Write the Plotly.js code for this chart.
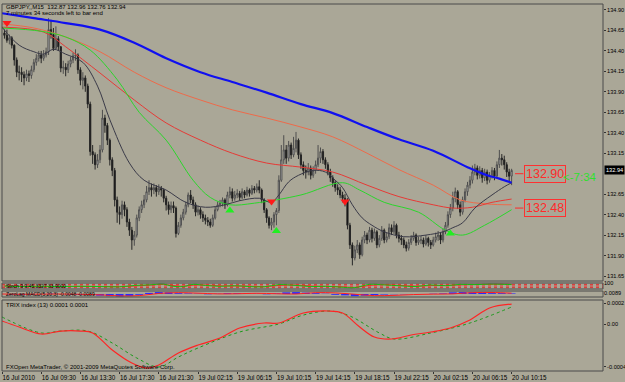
<!DOCTYPE html>
<html><head><meta charset="utf-8">
<script src="https://cdn.plot.ly/plotly-3.0.1.min.js"></script>
<style>html,body{margin:0;padding:0;background:#aaa797;}#chart{width:625px;height:382px;}</style>
</head><body><div id="chart"></div>
<script>
// ---------------- DATA ----------------
const symbolTitle = 'GBPJPY,,M15';
const timerText = '7 minutes 34 seconds left to bar end';
const timerShort = '&lt;-7:34';
const copyrightText = 'FXOpen MetaTrader, \u00a9 2001-2009 MetaQuotes Software Corp.';
const trixLabel = 'TRIX index (13) 0.0001 0.0001';
const stochLabel = 'Stoch 9 9 45.3327 33.9000';
const macdLabel = 'ZeroLag MACD(5,20,3) -0.0048 -0.0089';

const timeTickIdx = [0,16,32,48,64,80,96,112,128,144,160,176,192,208];
const timeTickText = ['16 Jul 2010','16 Jul 09:30','16 Jul 13:30','16 Jul 17:30','16 Jul 21:30','19 Jul 02:15','19 Jul 06:15','19 Jul 10:15','19 Jul 14:15','19 Jul 18:15','19 Jul 22:15','20 Jul 02:15','20 Jul 06:15','20 Jul 10:15'];
const priceTicks = [134.90,134.65,134.40,134.15,133.90,133.65,133.40,133.15,132.65,132.40,132.15,131.90,131.65];

const firstOpen = 134.62;
const closes = [
134.59,134.53,134.56,134.47,134.29,134.14,134.14,134.11,134.07,134.12,
134.10,134.17,134.26,134.31,134.35,134.31,134.35,134.39,134.66,134.60,
134.43,134.55,134.45,134.19,134.20,134.17,134.24,134.29,134.34,134.35,
134.17,134.04,134.07,133.97,133.75,133.17,133.13,133.01,133.07,133.19,
133.58,133.49,133.31,133.07,132.94,132.58,132.43,132.40,132.52,132.46,
132.31,132.21,132.09,132.15,132.36,132.46,132.52,132.58,132.68,132.73,
132.70,132.73,132.68,132.72,132.70,132.60,132.52,132.46,132.51,132.48,
132.17,132.27,132.36,132.43,132.52,132.64,132.58,132.52,132.43,132.46,
132.40,132.36,132.33,132.31,132.27,132.36,132.46,132.52,132.54,132.58,
132.52,132.64,132.68,132.60,132.64,132.66,132.61,132.68,132.64,132.70,
132.66,132.72,132.70,132.74,132.70,132.58,132.46,132.36,132.27,132.31,
132.40,132.45,132.82,133.07,133.19,133.09,133.25,133.13,133.21,133.31,
133.13,133.01,132.94,132.92,132.97,132.88,132.94,133.01,133.09,133.17,
133.07,133.01,132.92,132.85,132.79,132.73,132.70,132.64,132.60,132.58,
132.27,132.03,131.87,131.97,132.03,131.91,132.09,132.15,132.09,132.21,
132.11,132.19,132.03,132.11,132.21,132.09,132.13,132.24,132.19,132.27,
132.15,132.11,132.09,132.03,131.99,132.06,132.11,132.15,132.06,132.09,
132.09,132.04,132.11,132.06,132.03,132.09,132.13,132.15,132.09,132.19,
132.27,132.40,132.48,132.60,132.68,132.52,132.43,132.58,132.68,132.76,
132.82,132.92,132.97,132.88,132.94,132.85,132.92,132.82,132.88,132.94,
132.87,133.01,133.09,133.07,133.01,132.92,132.87,132.94];
const highs = [
134.66,134.66,134.60,134.58,134.48,134.32,134.22,134.20,134.15,134.17,
134.16,134.22,134.30,134.36,134.40,134.40,134.41,134.44,134.80,134.78,
134.68,134.70,134.58,134.46,134.28,134.25,134.28,134.33,134.38,134.42,
134.37,134.20,134.14,134.10,134.00,133.78,133.25,133.16,133.14,133.25,
133.68,133.62,133.52,133.33,133.10,132.97,132.62,132.50,132.57,132.56,
132.49,132.35,132.25,132.20,132.40,132.50,132.57,132.64,132.75,132.82,
132.78,132.78,132.76,132.77,132.75,132.72,132.63,132.56,132.56,132.56,
132.50,132.31,132.40,132.47,132.56,132.67,132.70,132.62,132.55,132.51,
132.49,132.44,132.40,132.37,132.35,132.40,132.50,132.56,132.58,132.61,
132.60,132.68,132.74,132.72,132.69,132.71,132.69,132.72,132.70,132.74,
132.72,132.76,132.75,132.78,132.82,132.72,132.60,132.48,132.38,132.36,
132.43,132.48,132.88,133.25,133.37,133.25,133.30,133.28,133.35,133.41,
133.33,133.16,133.05,133.00,133.03,133.00,132.99,133.06,133.25,133.22,
133.20,133.10,133.04,132.96,132.88,132.82,132.77,132.74,132.68,132.65,
132.60,132.30,132.06,132.02,132.09,132.06,132.13,132.20,132.18,132.25,
132.24,132.23,132.21,132.15,132.26,132.23,132.18,132.29,132.28,132.32,
132.29,132.19,132.15,132.12,132.07,132.10,132.15,132.19,132.17,132.13,
132.14,132.12,132.15,132.13,132.09,132.13,132.18,132.20,132.18,132.23,
132.31,132.44,132.53,132.68,132.73,132.70,132.56,132.62,132.72,132.80,
132.87,133.00,133.02,133.00,132.99,132.97,132.96,132.95,132.92,132.98,
132.97,133.05,133.19,133.14,133.12,133.04,132.96,132.96];
const lows = [
134.55,134.50,134.48,134.43,134.22,134.08,134.04,134.02,133.98,134.03,
134.02,134.06,134.14,134.22,134.27,134.25,134.28,134.32,134.35,134.55,
134.40,134.42,134.40,134.14,134.12,134.09,134.13,134.20,134.25,134.28,
134.12,133.98,133.93,133.90,133.70,133.12,133.02,132.95,132.97,133.03,
133.16,133.40,133.25,133.00,132.87,132.50,132.30,132.28,132.35,132.38,
132.25,132.14,131.97,132.02,132.12,132.32,132.42,132.48,132.55,132.64,
132.62,132.65,132.62,132.64,132.62,132.55,132.45,132.40,132.42,132.42,
132.12,132.15,132.24,132.33,132.40,132.49,132.54,132.47,132.38,132.39,
132.35,132.31,132.28,132.26,132.24,132.25,132.34,132.44,132.49,132.50,
132.47,132.50,132.60,132.56,132.57,132.60,132.57,132.59,132.60,132.62,
132.62,132.64,132.66,132.67,132.66,132.54,132.42,132.30,132.23,132.21,
132.24,132.27,132.42,132.80,133.02,133.02,133.05,133.08,133.10,133.16,
133.08,132.96,132.88,132.84,132.88,132.83,132.85,132.90,132.98,133.03,
133.02,132.96,132.88,132.80,132.74,132.68,132.64,132.60,132.55,132.50,
132.22,131.98,131.78,131.84,131.93,131.86,131.89,132.05,132.04,132.06,
132.06,132.08,131.99,132.00,132.08,132.05,132.06,132.10,132.15,132.16,
132.11,132.06,132.03,131.99,131.95,131.96,132.03,132.08,132.02,132.03,
132.04,132.00,132.02,132.01,131.98,132.01,132.06,132.08,132.04,132.06,
132.16,132.24,132.36,132.44,132.55,132.47,132.38,132.40,132.55,132.63,
132.72,132.78,132.88,132.83,132.84,132.79,132.81,132.77,132.79,132.84,
132.82,132.85,132.97,133.00,132.95,132.86,132.80,132.76];

// moving averages (bar index, price)
const maBlueIdx = [0,13,26,40,54,67,81,94,108,122,135,149,162,176,190,198,203,208];
const maBlue = [134.86,134.80,134.74,134.66,134.50,134.31,134.14,134.02,133.89,133.75,133.64,133.47,133.32,133.18,132.98,132.88,132.84,132.79];
const maSalmonIdx = [0,13,26,40,54,67,81,94,108,122,135,149,162,176,187,198,208];
const maSalmon = [134.73,134.68,134.57,134.39,134.14,133.95,133.80,133.68,133.58,133.47,133.35,133.15,132.95,132.76,132.58,132.53,132.52];
const maRedIdx = [0,17,26,40,54,67,81,94,108,122,135,149,162,176,184,192,200,208];
const maRed = [134.69,134.63,134.45,134.13,133.80,133.52,133.31,133.15,133.03,132.98,132.92,132.76,132.62,132.52,132.48,132.49,132.55,132.59];
const maGreenIdx = [0,16,26,36,47,56,67,78,85,93,103,122,139,146,156,170,181,188,197,208];
const maGreen = [134.68,134.64,134.57,134.41,134.05,133.65,133.31,132.82,132.61,132.52,132.54,132.64,132.79,132.70,132.55,132.43,132.21,132.15,132.27,132.46];
const maGrayIdx = [0,7,13,17,21,26,33,39,44,52,58,67,75,83,91,97,105,110,113,117,121,127,132,136,139,143,147,151,156,164,173,180,184,188,193,200,205,208];
const maGray = [134.69,134.47,134.39,134.36,134.42,134.36,134.26,133.97,133.56,133.03,132.82,132.70,132.55,132.49,132.52,132.57,132.60,132.55,132.64,132.80,132.88,132.94,132.92,132.82,132.73,132.52,132.36,132.27,132.19,132.13,132.15,132.19,132.24,132.30,132.48,132.64,132.74,132.79];

const sellArrowIdx = [2,110,140];
const sellArrowPrice = [134.74,132.56,132.56];
const buyArrowIdx = [93,112,183];
const buyArrowPrice = [132.45,132.20,132.17];

const levelPrices = [132.90,132.48];

// small indicator windows
const stochIdx = [1,7,16,24,32,40,48,54,60,66,69,74,78,83,89,95,101,107,113,120,126,132,138,144,150,156,162,169,175,181,187,193,199,205,208];
const stochMain = [50,40,45,40,45,40,35,60,70,85,50,40,80,60,45,55,40,35,75,60,40,45,30,20,80,70,55,40,70,55,80,75,85,80,75];
const stochSignal = [50,45,42,42,42,42,38,50,65,78,62,45,65,68,52,50,48,38,60,68,50,42,38,25,60,75,62,48,58,62,70,78,80,82,78];
const stochLevels = [20,50,80];

const macdIdx = [0,4,8,12,16,20,24,28,32,36,40,44,48,52,56,60,64,68,72,76,80,84,88,92,96,100,104,108,112,116,120,124,128,132,136,140,144,148,152,156,160,164,168,172,176,180,184,188,192,196,200,204,208];
const macdHist = [0,-0.1,-0.2,-0.1,0,0.1,0,-0.1,-0.2,-0.3,-0.6,-0.8,-0.9,-0.7,-0.3,0.4,0.7,0.6,0.3,0.2,0.1,-0.1,0.1,0.3,0.3,0.2,0.1,-0.1,0.2,0.6,0.7,0.5,0.3,0.1,-0.3,-0.5,-0.8,-0.6,-0.4,-0.2,-0.1,-0.1,0,0,0.1,0.2,0.6,0.7,0.6,0.5,0.3,0.3,0.2];
const macdSigIdx = [0,8,16,24,32,40,48,56,64,72,80,88,96,104,112,120,128,136,144,152,160,168,176,184,192,200,208];
const macdSignal = [0,-0.1,-0.05,0,-0.1,-0.3,-0.7,-0.6,0.2,0.5,0.3,0.05,0.1,0.25,0.1,0,0.5,0.4,-0.1,-0.6,-0.5,-0.2,-0.05,0.05,0.5,0.55,0.3];

const trixIdx = [0,7,16,24,32,37,45,53,59,64,72,80,89,97,107,113,123,133,139,146,152,159,167,175,183,191,199,208];
const trix = [0.000032,-0.000025,-0.000091,-0.000063,-0.000063,-0.000081,-0.000242,-0.000365,-0.000412,-0.000383,-0.000270,-0.000195,-0.000129,-0.000034,0.000013,0.000013,0.000107,0.000126,0.000107,-0.000025,-0.000119,-0.000138,-0.000100,-0.000072,-0.000034,0.000041,0.000155,0.000192];
const trixSigIdx = [0,16,24,35,45,55,64,72,80,97,113,123,134,142,154,160,175,191,208];
const trixSignal = [0.000070,-0.000081,-0.000063,-0.000063,-0.000176,-0.000317,-0.000402,-0.000308,-0.000223,-0.000072,0.000004,0.000088,0.000126,0.000079,-0.000081,-0.000138,-0.000081,0.000013,0.000164];
const trixTicks = [0.0002,0,-0.0004];
const trixTickText = ['0.0002','0.00','-0.0004'];

// ---------------- BUILD ----------------
const bg = '#aaa797';
const FONT = 'Liberation Sans, Arial, sans-serif';
const barIdx = closes.map((_, k) => k + 1);
const opens = closes.map((_, k) => k === 0 ? firstOpen : closes[k - 1]);
const n = closes.length;
const lastO = opens[n-1], lastH = highs[n-1], lastL = lows[n-1], lastC = closes[n-1];

// pixel helpers for placement (plot area: x 2..603, y 4..371)
const PL = 2, PR = 603, PT = 4, PB = 371;
const px = x => (x - PL) / (PR - PL);
const py = y => (PB - y) / (PB - PT);

const traces = [];
traces.push({
  type: 'candlestick', x: barIdx, open: opens, high: highs, low: lows, close: closes,
  xaxis: 'x', yaxis: 'y', whiskerwidth: 0, hoverinfo: 'skip', showlegend: false,
  increasing: {line: {color: '#4e4e4e', width: 1}, fillcolor: '#d6d6d6'},
  decreasing: {line: {color: '#262626', width: 1}, fillcolor: '#000000'}
});
function maLine(xs, ys, color, width) {
  return {type: 'scatter', mode: 'lines', x: xs, y: ys, xaxis: 'x', yaxis: 'y',
    line: {color: color, width: width, shape: 'spline', smoothing: 1}, hoverinfo: 'skip', showlegend: false};
}
traces.push(maLine(maSalmonIdx, maSalmon, '#ee6a4a', 1));
traces.push(maLine(maRedIdx, maRed, '#e63a36', 1));
traces.push(maLine(maGreenIdx, maGreen, '#2bd62b', 1));
traces.push(maLine(maGrayIdx, maGray, '#3a3a48', 1));
traces.push(maLine(maBlueIdx, maBlue, '#1010f0', 2.2));
traces.push({type: 'scatter', mode: 'markers', x: sellArrowIdx, y: sellArrowPrice, xaxis: 'x', yaxis: 'y',
  marker: {symbol: 'triangle-down', size: 8, color: '#ff1a1a', line: {width: 0}}, hoverinfo: 'skip', showlegend: false});
traces.push({type: 'scatter', mode: 'markers', x: buyArrowIdx, y: buyArrowPrice, xaxis: 'x', yaxis: 'y',
  marker: {symbol: 'triangle-up', size: 8, color: '#22ee22', line: {width: 0}}, hoverinfo: 'skip', showlegend: false});

// stochastic window
traces.push({type: 'scatter', mode: 'lines', x: stochIdx, y: stochSignal, xaxis: 'x', yaxis: 'y2',
  line: {color: '#ff2020', width: 1, shape: 'spline'}, hoverinfo: 'skip', showlegend: false});
traces.push({type: 'scatter', mode: 'lines', x: stochIdx, y: stochMain, xaxis: 'x', yaxis: 'y2',
  line: {color: '#10c010', width: 1, shape: 'spline'}, hoverinfo: 'skip', showlegend: false});
// macd window
traces.push({type: 'bar', x: macdIdx, y: macdHist, xaxis: 'x', yaxis: 'y3', width: 3.2,
  marker: {color: '#2a2aff', line: {width: 0}}, hoverinfo: 'skip', showlegend: false});
traces.push({type: 'scatter', mode: 'lines', x: macdSigIdx, y: macdSignal, xaxis: 'x', yaxis: 'y3',
  line: {color: '#ff2020', width: 1, shape: 'spline'}, hoverinfo: 'skip', showlegend: false});
// trix window
traces.push({type: 'scatter', mode: 'lines', x: trixSigIdx, y: trixSignal, xaxis: 'x', yaxis: 'y4',
  line: {color: '#1a9a1a', width: 1, dash: 'dot', shape: 'spline'}, hoverinfo: 'skip', showlegend: false});
traces.push({type: 'scatter', mode: 'lines', x: trixIdx, y: trix, xaxis: 'x', yaxis: 'y4',
  line: {color: '#ff2424', width: 1.2, shape: 'spline'}, hoverinfo: 'skip', showlegend: false});

const tickFont = {family: FONT, size: 5.6, color: '#000'};
const dMain = [py(281), 1], dSto = [py(289), py(283)], dMacd = [py(297), py(291)], dTrix = [0, py(300)];

const shapes = [];
[dMain, dSto, dMacd, dTrix].forEach(d => shapes.push({type: 'rect', xref: 'paper', yref: 'paper',
  x0: 0, x1: 1, y0: d[0], y1: d[1], line: {color: '#4a4a4a', width: 1}, fillcolor: 'rgba(0,0,0,0)', layer: 'above'}));
stochLevels.forEach(v => shapes.push({type: 'line', xref: 'paper', yref: 'y2', x0: 0, x1: 1, y0: v, y1: v,
  line: {color: '#e03030', width: 1, dash: 'dot'}, layer: 'below'}));
levelPrices.forEach(v => shapes.push({type: 'line', xref: 'x', yref: 'y', x0: 209.4, x1: 212.8, y0: v, y1: v,
  line: {color: '#ff2a2a', width: 1}}));

const ann = [];
function txt(x, y, t, size, color) {
  ann.push({xref: 'paper', yref: 'paper', x: px(x), y: py(y), xanchor: 'left', yanchor: 'middle', text: t,
    showarrow: false, font: {family: FONT, size: size, color: color || '#000'}});
}
txt(4, 7, `${symbolTitle}  ${lastO.toFixed(2)} ${lastH.toFixed(2)} ${lastL.toFixed(2)} ${lastC.toFixed(2)}`, 6);
txt(4, 13.5, timerText, 6);
txt(4, 286, stochLabel, 5);
txt(4, 294, macdLabel, 5);
txt(4, 305, trixLabel, 6);
txt(4, 367, copyrightText, 6);
levelPrices.forEach(v => ann.push({xref: 'x', yref: 'y', x: 213.1, y: v, xanchor: 'left', yanchor: 'middle',
  text: v.toFixed(2), showarrow: false, font: {family: FONT, size: 12.5, color: '#ff2a2a'},
  bordercolor: '#ff3030', borderwidth: 1, borderpad: 1}));
ann.push({xref: 'paper', yref: 'paper', x: px(561), y: py(177), xanchor: 'left', yanchor: 'middle',
  text: timerShort, showarrow: false, font: {family: FONT, size: 11.5, color: '#2ee02e'}});
ann.push({xref: 'paper', yref: 'y', x: 1, y: lastC, xanchor: 'left', yanchor: 'middle', xshift: 1,
  text: lastC.toFixed(2), showarrow: false, bgcolor: '#000', borderpad: 1,
  font: {family: FONT, size: 5.6, color: '#fff'}});

const layout = {
  width: 625, height: 382,
  margin: {l: PL, r: 625 - PR, t: PT, b: 382 - PB},
  paper_bgcolor: bg, plot_bgcolor: bg,
  showlegend: false, dragmode: false, barmode: 'overlay',
  font: {family: FONT, size: 6, color: '#000'},
  xaxis: {range: [0, 245.3], anchor: 'y4', showgrid: false, zeroline: false, showline: false,
    tickvals: timeTickIdx, ticktext: timeTickText, ticks: 'outside', ticklen: 2, tickcolor: '#333',
    tickangle: 0, ticklabelposition: 'outside right', tickfont: {family: FONT, size: 6.3, color: '#000'},
    rangeslider: {visible: false}, fixedrange: true},
  yaxis: {domain: dMain, range: [131.589, 134.973], side: 'right', anchor: 'x', showgrid: false, zeroline: false,
    tickvals: priceTicks, tickformat: '.2f', ticks: 'outside', ticklen: 2, tickcolor: '#333', tickfont: tickFont, fixedrange: true},
  yaxis2: {domain: dSto, range: [-5, 105], side: 'right', anchor: 'x', showgrid: false, zeroline: false,
    tickvals: [100], ticktext: ['100'], ticks: '', tickfont: tickFont, fixedrange: true},
  yaxis3: {domain: dMacd, range: [-1.1, 1.1], side: 'right', anchor: 'x', showgrid: false, zeroline: false,
    tickvals: [0.2], ticktext: ['0.0089'], ticks: '', tickfont: tickFont, fixedrange: true},
  yaxis4: {domain: dTrix, range: [-0.00044, 0.00023], side: 'right', anchor: 'x', showgrid: false, zeroline: false,
    tickvals: trixTicks, ticktext: trixTickText, ticks: 'outside', ticklen: 2, tickcolor: '#333', tickfont: tickFont, fixedrange: true},
  shapes: shapes, annotations: ann
};
Plotly.newPlot('chart', traces, layout, {staticPlot: true, displayModeBar: false});
</script>
</body></html>
